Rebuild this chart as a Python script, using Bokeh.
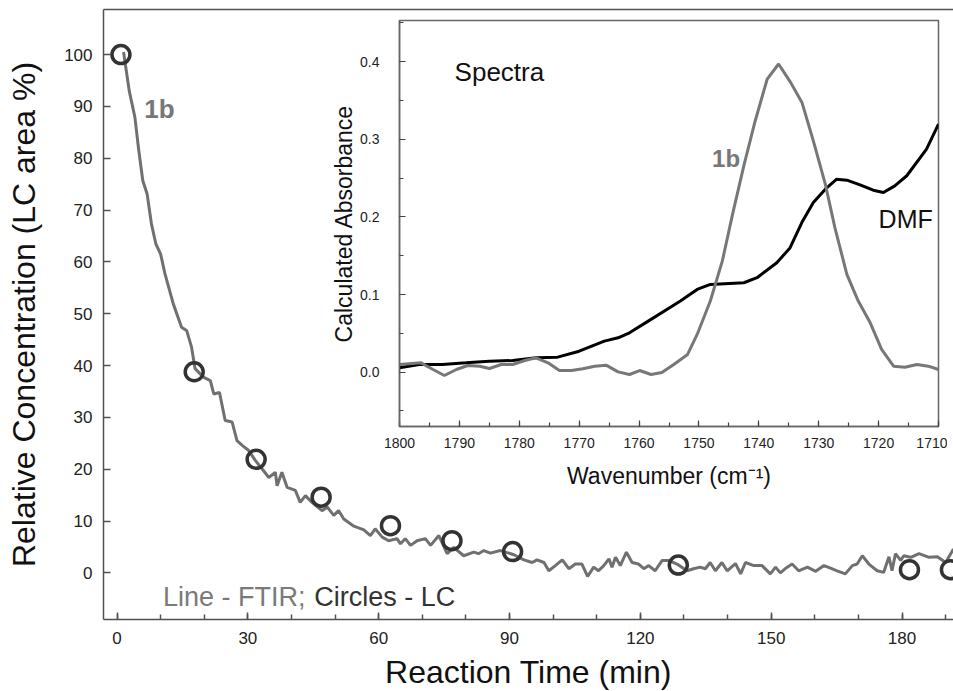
from bokeh.plotting import figure
from bokeh.models import (Range1d, SingleIntervalTicker, LinearAxis, Label, FixedTicker,
                          PrintfTickFormatter, GlobalInlineStyleSheet)
from bokeh.layouts import column
from bokeh.embed import file_html
from bokeh.resources import INLINE

# ---------------- data ----------------
# FTIR trace (relative concentration vs reaction time)
ftir_time = [1.5, 2.8, 4.1, 4.9, 5.9, 6.9, 7.9, 8.9, 10.0, 11.0,
             12.9, 14.8, 16.0, 17.1, 17.9, 19.9, 21.4, 22.2, 23.5, 24.8,
             26.4, 27.5, 28.7, 30.2, 31.7, 33.6, 34.8, 36.3, 36.7, 37.8,
             39.0, 40.9, 42.0, 43.2, 44.7, 47.0, 48.2, 49.7, 50.8, 52.0,
             54.3, 56.6, 58.1, 59.2, 60.8, 62.3, 64.2, 65.0, 66.1, 67.3,
             68.8, 70.7, 71.9, 73.8, 75.7, 77.2, 79.5, 81.8, 82.9, 84.1,
             85.6, 87.9, 91.0, 93.3, 95.2, 96.3, 97.9, 99.0, 100.5, 102.1,
             103.6, 105.1, 106.6, 107.9, 109.3, 110.4, 111.6, 112.8, 113.5, 114.3,
             115.4, 116.8, 118.1, 119.6, 120.8, 121.9, 123.4, 125.0, 126.5, 128.4,
             130.7, 132.2, 133.7, 134.9, 136.0, 137.2, 138.7, 139.9, 141.8, 143.0,
             144.1, 146.0, 147.9, 149.8, 151.0, 152.1, 153.5, 154.8, 156.3, 158.3,
             160.2, 162.1, 163.6, 165.1, 167.0, 168.6, 169.7, 170.9, 172.4, 174.3,
             175.8, 177.0, 177.7, 178.5, 179.7, 180.4, 182.0, 183.9, 186.2, 188.1,
             190.0, 191.8]
ftir_conc = [100.5, 93.0, 87.9, 82.1, 75.7, 73.1, 67.3, 63.5, 61.5, 57.7,
             51.9, 47.4, 46.7, 43.5, 39.4, 37.7, 37.1, 34.5, 34.8, 29.4,
             29.1, 25.5, 24.6, 23.6, 21.7, 19.7, 18.4, 19.4, 16.8, 19.4,
             16.5, 15.9, 13.6, 14.9, 13.6, 12.0, 12.7, 11.1, 12.0, 10.4,
             9.0, 8.3, 7.2, 8.5, 6.9, 6.2, 6.6, 5.6, 6.6, 5.3,
             6.2, 6.6, 5.3, 7.2, 3.7, 4.9, 3.3, 4.0, 3.7, 4.3,
             3.8, 4.3, 3.5, 2.5, 2.0, 2.5, 2.0, 0.4, 1.4, 2.5,
             0.8, 1.7, 1.7, -0.7, 1.1, 0.4, 1.4, 2.7, 1.1, 3.0,
             1.4, 4.0, 2.0, 1.7, 0.8, 1.4, 0.4, 2.4, 2.4, 1.7,
             0.4, 0.8, 1.1, 0.8, 2.0, 0.4, 2.0, 0.4, 1.8, -0.2,
             2.0, 1.4, 1.4, -0.2, 1.1, 0.0, 1.0, 1.7, 0.4, 1.1,
             0.3, 1.4, 0.9, 0.4, -0.2, 1.4, 1.7, 3.3, 1.7, 0.4,
             0.1, 3.1, 0.4, 3.7, 2.4, 3.3, 3.0, 3.7, 3.0, 3.1,
             2.0, 4.6]

# LC points
lc_time = [0.9, 17.7, 31.9, 46.8, 62.7, 76.8, 90.7, 128.7, 181.7, 191.1]
lc_conc = [100.0, 38.8, 21.9, 14.6, 9.1, 6.2, 4.1, 1.5, 0.6, 0.6]

# inset spectra
dmf_wn = [1800, 1796.7, 1792.8, 1788.9, 1785.0, 1781.1, 1777.2, 1773.6, 1770.0, 1765.8,
          1763.5, 1761.6, 1758.0, 1754.9, 1753.1, 1750.3, 1748.1, 1742.5, 1740.3, 1737.0,
          1734.8, 1732.8, 1730.9, 1728.9, 1727.0, 1725.3, 1723.1, 1720.9, 1719.2, 1717.3,
          1715.3, 1712.0, 1710.0]
dmf_abs = [0.0056, 0.0099, 0.0099, 0.012, 0.0142, 0.015, 0.0185, 0.0193, 0.027, 0.040,
           0.0443, 0.0507, 0.068, 0.083, 0.0916, 0.1066, 0.113, 0.1152, 0.1217, 0.141,
           0.160, 0.193, 0.2185, 0.2357, 0.2486, 0.2473, 0.2413, 0.2344, 0.2314, 0.240,
           0.253, 0.2873, 0.3195]

b1_wn = [1800, 1796.4, 1794.4, 1792.5, 1790.5, 1788.6, 1786.6, 1785.0, 1783.0, 1781.1,
         1779.1, 1777.2, 1775.2, 1773.3, 1771.3, 1769.4, 1767.4, 1765.5, 1763.5, 1761.6,
         1759.9, 1758.0, 1756.2, 1754.2, 1751.9, 1750.3, 1748.1, 1746.1, 1744.4, 1742.5,
         1740.6, 1738.6, 1736.7, 1734.7, 1732.8, 1730.9, 1728.9, 1727.3, 1725.3, 1723.4,
         1721.4, 1719.5, 1717.5, 1715.6, 1713.6, 1711.7, 1710.0]
b1_abs = [0.0099, 0.012, 0.0034, -0.0043, 0.0034, 0.0086, 0.0077, 0.0047, 0.0099, 0.0099,
          0.015, 0.0185, 0.012, 0.0021, 0.0021, 0.0043, 0.0077, 0.009, 0.0004, -0.003,
          0.0021, -0.003, -0.0005, 0.0099, 0.0228, 0.0486, 0.0916, 0.143, 0.203, 0.266,
          0.3239, 0.3776, 0.397, 0.3733, 0.3475, 0.298, 0.2422, 0.1862, 0.126, 0.0916,
          0.0636, 0.0293, 0.0077, 0.0064, 0.0099, 0.0077, 0.0034]

FONT = "Liberation Sans"
AX = "#505050"

# ---------------- main plot ----------------
MAIN_L, MAIN_T = 111, 9
MAIN_W = MAIN_L + 850
p = figure(frame_width=850, frame_height=610,
           x_range=Range1d(-3.1, 191.8), y_range=Range1d(-9.0, 108.7),
           output_backend="svg", toolbar_location=None,
           min_border_left=MAIN_L, min_border_right=0, min_border_top=MAIN_T, min_border_bottom=20,
           x_axis_label="Reaction Time (min)",
           y_axis_label="Relative Concentration (LC area %)")
p.outline_line_color = None
p.xgrid.visible = False
p.ygrid.visible = False
p.background_fill_color = "white"
p.border_fill_color = "white"

xa = p.xaxis[0]
xa.ticker = SingleIntervalTicker(interval=30, num_minor_ticks=3)
ya = p.yaxis[0]
ya.ticker = FixedTicker(ticks=[0, 10, 20, 30, 40, 50, 60, 70, 80, 90, 100])
for ax in (xa, ya):
    ax.axis_line_color = AX
    ax.axis_line_width = 1.5
    ax.major_tick_line_color = AX
    ax.major_tick_line_width = 1.5
    ax.minor_tick_line_color = AX
    ax.minor_tick_line_width = 1.5
    ax.major_tick_in = 7
    ax.major_tick_out = 0
    ax.minor_tick_in = 5
    ax.minor_tick_out = 0
    ax.major_label_text_font = FONT
    ax.major_label_text_font_size = "17px"
    ax.major_label_text_color = "#222222"
    ax.axis_label_text_font = FONT
    ax.axis_label_text_font_size = "32px"
    ax.axis_label_text_font_style = "normal"
    ax.axis_label_text_color = "#111111"
xa.major_label_standoff = 12
xa.axis_label_standoff = 7
ya.major_label_standoff = 11
ya.axis_label_standoff = 19

top_axis = LinearAxis(ticker=FixedTicker(ticks=[]), axis_line_color=AX, axis_line_width=1.5,
                      major_tick_out=0, major_tick_in=0, minor_tick_out=0, minor_tick_in=0,
                      major_label_standoff=0, major_label_text_font_size="0px")
p.add_layout(top_axis, "above")

p.line(ftir_time, ftir_conc, line_color="#707070", line_width=3)
p.scatter(lc_time, lc_conc, marker="circle", size=18, fill_color=None,
          line_color="#333333", line_width=3.5)

p.add_layout(Label(x=6.26, y=89.5, text="1b", text_font=FONT, text_font_size="26px",
                   text_font_style="bold", text_color="#777777", text_baseline="alphabetic"))
p.add_layout(Label(x=10.55, y=-4.7, text="Line - FTIR;", text_font=FONT, text_font_size="27px",
                   text_color="#7a7a7a", text_baseline="alphabetic"))
p.add_layout(Label(x=45.2, y=-4.7, text="Circles - LC", text_font=FONT, text_font_size="27px",
                   text_color="#333333", text_baseline="alphabetic"))

# main canvas: frame starts at x=103 of the window (left padding partly off-screen)
p.styles = {"margin-left": "%dpx" % (103 - MAIN_L)}
p.stylesheets = [GlobalInlineStyleSheet(css="html, body { overflow: hidden; }")]

# ---------------- inset ----------------
INS_L, INS_T, INS_R, INS_B = 110, 10, 10, 80
q = figure(frame_width=539, frame_height=406,
           x_range=Range1d(1800, 1710), y_range=Range1d(-0.07, 0.453),
           output_backend="svg", toolbar_location=None,
           min_border_left=INS_L, min_border_right=INS_R, min_border_top=INS_T,
           min_border_bottom=INS_B,
           x_axis_label="Wavenumber (cm\u207b\u00b9)", y_axis_label="Calculated Absorbance")
q.outline_line_color = "#666666"
q.outline_line_width = 1.5
q.xgrid.visible = False
q.ygrid.visible = False
q.background_fill_color = "white"
q.border_fill_alpha = 0

qx = q.xaxis[0]
qx.ticker = SingleIntervalTicker(interval=10, num_minor_ticks=2)
qy = q.yaxis[0]
qy.ticker = SingleIntervalTicker(interval=0.1, num_minor_ticks=2)
qy.formatter = PrintfTickFormatter(format="%.1f")
for ax in (qx, qy):
    ax.axis_line_color = "#666666"
    ax.axis_line_width = 1.5
    ax.major_tick_line_color = "#444444"
    ax.minor_tick_line_color = "#444444"
    ax.major_tick_line_width = 1.2
    ax.minor_tick_line_width = 1.2
    ax.major_tick_in = 6
    ax.major_tick_out = 0
    ax.minor_tick_in = 4
    ax.minor_tick_out = 0
    ax.major_label_text_font = FONT
    ax.major_label_text_font_size = "14px"
    ax.major_label_text_color = "#222222"
    ax.axis_label_text_font = FONT
    ax.axis_label_text_font_size = "23px"
    ax.axis_label_text_font_style = "normal"
    ax.axis_label_text_color = "#111111"
qx.major_label_standoff = 11
qx.axis_label_standoff = 12
qy.major_label_standoff = 20
qy.axis_label_standoff = 0

q.line(dmf_wn, dmf_abs, line_color="black", line_width=3)
q.line(b1_wn, b1_abs, line_color="#777777", line_width=3)

q.add_layout(Label(x=1790.8, y=0.3866, text="Spectra", text_font=FONT, text_font_size="26px",
                   text_color="#111111", text_baseline="alphabetic"))
q.add_layout(Label(x=1747.8, y=0.2756, text="1b", text_font=FONT, text_font_size="24px",
                   text_font_style="bold", text_color="#777777", text_baseline="alphabetic"))
q.add_layout(Label(x=1720.0, y=0.1974, text="DMF", text_font=FONT, text_font_size="25px",
                   text_color="#111111", text_baseline="alphabetic"))

q.styles = {"position": "absolute", "left": "%dpx" % (398 - INS_L),
            "top": "%dpx" % (20 - INS_T), "z-index": "10"}

layout = column(p, q, width=MAIN_W)
open("out.html", "w").write(file_html(layout, INLINE))
